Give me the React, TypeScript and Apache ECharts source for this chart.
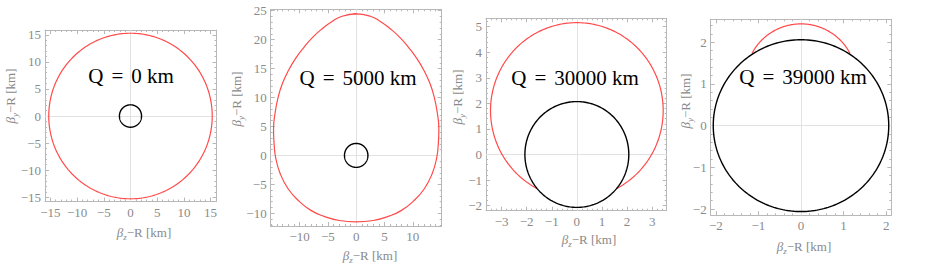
import React, { useEffect, useRef } from 'react';
import * as echarts from 'echarts';

// ---- data ----
const panelTitles = ['Q = 0 km', 'Q = 5000 km', 'Q = 30000 km', 'Q = 39000 km'];

const xRanges = [[-16, 16.1], [-15.1, 15.1], [-3.62, 3.58], [-2.12, 2.12]];
const yRanges = [[-15.8, 15.9], [-12.2, 25.25], [-2.2, 5.33], [-2.15, 2.55]];

const xTickLabels = [
  [-15, -10, -5, 0, 5, 10, 15],
  [-10, -5, 0, 5, 10],
  [-3, -2, -1, 0, 1, 2, 3],
  [-2, -1, 0, 1, 2],
];
const yTickLabels = [
  [-15, -10, -5, 0, 5, 10, 15],
  [-10, -5, 0, 5, 10, 15, 20, 25],
  [-2, -1, 0, 1, 2, 3, 4, 5],
  [-2, -1, 0, 1, 2],
];
const minorSteps = [1, 1, 0.2, 0.2];

// circles / arcs: [cx, cy, r, startDeg, endDeg]
const blackCircles = [
  [0, 0, 2.07, 0, 360],
  [0, 0, 2.07, 0, 360],
  [0, 0, 2.07, 0, 360],
  [0, 0, 2.06, 0, 360],
];
const redArcs: (number[] | null)[] = [
  [0, 0, 15.3, 0, 360],
  null,
  [0, 1.72, 3.44, -62.6, 242.6],
  [0, 1.153, 1.287, 26.6, 153.4],
];

// egg-shaped red curve of the Q = 5000 km panel
const eggX = [
  -2.5, 0, 2.5, 4.2, 6.0, 7.7, 9.3, 10.6, 11.9, 13.0, 13.8, 14.3, 14.6, 14.5, 14.2, 13.4, 12.0, 10.1, 8.0, 5.8, 3.0, 0,
  -3.0, -5.8, -8.0, -10.1, -12.0, -13.4, -14.2, -14.5, -14.6, -14.3, -13.8, -13.0, -11.9, -10.6, -9.3, -7.7, -6.0, -4.2, -2.5, 0,
];
const eggY = [
  24.05, 24.45, 24.05, 23.2, 21.9, 20.4, 18.6, 16.9, 14.8, 12.5, 10.0, 7.5, 4.5, 2.0, -0.5, -3.2, -5.8, -7.9, -9.5, -10.5, -11.25, -11.5,
  -11.25, -10.5, -9.5, -7.9, -5.8, -3.2, -0.5, 2.0, 4.5, 7.5, 10.0, 12.5, 14.8, 16.9, 18.6, 20.4, 21.9, 23.2, 24.05, 24.45,
];

// ---- layout / style ----
const grids = [
  { left: 45, top: 30, width: 171.5, height: 171.5 },
  { left: 270.7, top: 9.3, width: 171, height: 216.7 },
  { left: 486, top: 18.3, width: 180.7, height: 192.4 },
  { left: 710.7, top: 19.3, width: 180.6, height: 196 },
];
const titlePos = [[131, 76], [358, 78], [575, 78], [803, 77]];
const xNamePos = [[144, 232], [370, 255], [589, 239], [804, 246]];
const yNamePos = [[10.5, 96], [236, 99], [457, 97], [685, 101]];

const FRAME = '#b8b8b8';
const LABEL = '#8a8a8a';
const RED = '#ff4a4a';
const SERIF = "'Liberation Serif', serif";

function minorValues(range: number[], step: number) {
  const out: number[] = [];
  const start = Math.ceil(range[0] / step - 1e-9);
  const end = Math.floor(range[1] / step + 1e-9);
  for (let k = start; k <= end; k++) out.push(+(k * step).toFixed(4));
  return out;
}

const fmt = (v: number) => (v < 0 ? '\u2212' + Math.abs(v) : String(v));

function arcRender(color: string, width: number) {
  return (params: any, api: any) => {
    const cx = api.value(0), cy = api.value(1), r = api.value(2), a0 = api.value(3), a1 = api.value(4);
    const pts: number[][] = [];
    const n = 240;
    for (let i = 0; i <= n; i++) {
      const a = ((a0 + ((a1 - a0) * i) / n) * Math.PI) / 180;
      pts.push(api.coord([cx + r * Math.cos(a), cy + r * Math.sin(a)]));
    }
    return {
      type: 'polyline',
      shape: { points: pts },
      style: { stroke: color, fill: 'none', lineWidth: width },
    };
  };
}

function buildOption() {
  const xAxis: any[] = [];
  const yAxis: any[] = [];
  const series: any[] = [];
  const graphic: any[] = [];

  for (let i = 0; i < 4; i++) {
    const xr = xRanges[i], yr = yRanges[i];
    const xMinor = minorValues(xr, minorSteps[i]);
    const yMinor = minorValues(yr, minorSteps[i]);
    const base = (range: number[]) => ({
      type: 'value',
      gridIndex: i,
      min: range[0],
      max: range[1],
      splitLine: { show: false },
    });
    const mk = (range: number[], pos: string, major: number[], minor: number[], labels: number[] | null) => [
      {
        ...base(range),
        position: pos,
        axisLine: { show: true, onZero: false, lineStyle: { color: FRAME, width: 1 } },
        axisTick: { show: true, inside: true, length: 4, customValues: major, lineStyle: { color: FRAME } },
        axisLabel: labels
          ? {
              show: true,
              customValues: labels,
              formatter: fmt,
              color: LABEL,
              fontFamily: SERIF,
              fontSize: 13,
              margin: 4,
            }
          : { show: false },
      },
      {
        ...base(range),
        position: pos,
        axisLine: { show: false, onZero: false },
        axisTick: { show: true, inside: true, length: 2, customValues: minor, lineStyle: { color: FRAME } },
        axisLabel: { show: false },
      },
    ];
    const xi = xAxis.length;
    xAxis.push(...mk(xr, 'bottom', xTickLabels[i], xMinor, xTickLabels[i]));
    xAxis.push(...mk(xr, 'top', xTickLabels[i], xMinor, null));
    const yi = yAxis.length;
    yAxis.push(...mk(yr, 'left', yTickLabels[i], yMinor, yTickLabels[i]));
    yAxis.push(...mk(yr, 'right', yTickLabels[i], yMinor, null));

    // zero lines
    series.push({
      type: 'line',
      z: 1,
      xAxisIndex: xi,
      yAxisIndex: yi,
      data: [[0, 0]],
      showSymbol: false,
      silent: true,
      markLine: {
        silent: true,
        symbol: 'none',
        z: 1,
        label: { show: false },
        lineStyle: { color: '#e2e2e2', type: 'solid', width: 1 },
        data: [{ xAxis: 0 }, { yAxis: 0 }],
      },
    });

    // red curve
    const arc = redArcs[i];
    if (arc) {
      series.push({
        type: 'custom',
        z: 5,
        xAxisIndex: xi,
        yAxisIndex: yi,
        data: [arc],
        encode: { x: 0, y: 1 },
        renderItem: arcRender(RED, 1.2),
        silent: true,
      });
    } else {
      series.push({
        type: 'line',
        z: 5,
        xAxisIndex: xi,
        yAxisIndex: yi,
        data: eggX.map((x, k) => [x, eggY[k]]),
        smooth: true,
        showSymbol: false,
        lineStyle: { color: RED, width: 1.2 },
        silent: true,
      });
    }

    // black circle
    series.push({
      type: 'custom',
      z: 6,
      xAxisIndex: xi,
      yAxisIndex: yi,
      data: [blackCircles[i]],
      encode: { x: 0, y: 1 },
      renderItem: arcRender('#000000', 1.4),
      silent: true,
    });

    // panel title (math-style spacing around "=")
    const parts = panelTitles[i].split(' = ');
    graphic.push({
      type: 'text',
      x: titlePos[i][0],
      y: titlePos[i][1],
      z: 100,
      style: {
        text: `{t|${parts[0]}}{e|=}{t|${parts[1]}}`,
        rich: {
          t: { fontFamily: SERIF, fontSize: 21, fill: '#000' },
          e: { fontFamily: SERIF, fontSize: 21, fill: '#000', padding: [0, 8, 0, 8] },
        },
        textAlign: 'center',
        textVerticalAlign: 'middle',
      },
    });

    const nameRich = (sub: string) => ({
      text: `{b|β}{s|${sub}}{n|\u2212R [km]}`,
      rich: {
        b: { fontFamily: SERIF, fontSize: 13, fontStyle: 'italic', fill: LABEL, lineHeight: 18, verticalAlign: 'middle' },
        s: { fontFamily: SERIF, fontSize: 9, fontStyle: 'italic', fill: LABEL, lineHeight: 10, verticalAlign: 'bottom' },
        n: { fontFamily: SERIF, fontSize: 13, fill: LABEL, lineHeight: 18, verticalAlign: 'middle' },
      },
      textAlign: 'center',
      textVerticalAlign: 'middle',
    });
    graphic.push({
      type: 'text',
      x: xNamePos[i][0],
      y: xNamePos[i][1],
      style: nameRich('z'),
    });
    graphic.push({
      type: 'text',
      x: yNamePos[i][0],
      y: yNamePos[i][1],
      rotation: Math.PI / 2,
      style: nameRich('y'),
    });
  }

  return {
    animation: false,
    backgroundColor: '#ffffff',
    grid: grids.map((g) => ({ ...g, containLabel: false })),
    xAxis,
    yAxis,
    series,
    graphic,
  };
}

export default function App() {
  const ref = useRef<HTMLDivElement>(null);
  useEffect(() => {
    if (!ref.current) return;
    const chart = echarts.init(ref.current, undefined, { renderer: 'svg' });
    chart.setOption(buildOption() as any);
    return () => chart.dispose();
  }, []);
  return (
    <div
      ref={ref}
      style={{ position: 'absolute', left: 0, top: 0, width: 926, height: 268, background: '#fff' }}
    />
  );
}
